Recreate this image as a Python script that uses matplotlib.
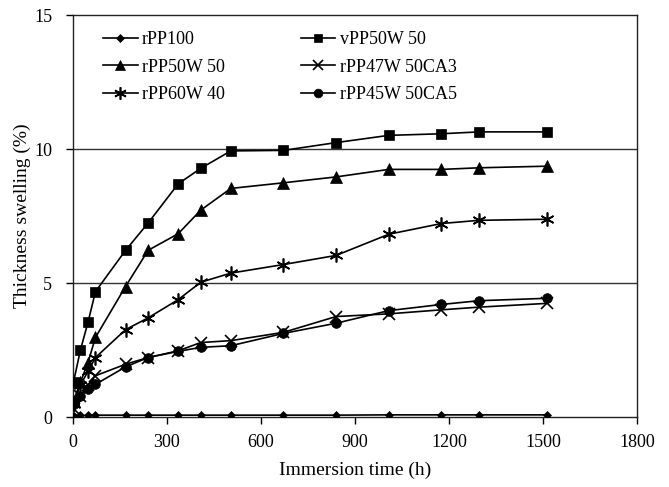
import numpy as np
import matplotlib.pyplot as plt

plt.rcParams['font.family'] = ['Liberation Serif', 'DejaVu Serif']

# immersion times (h)
hours = [2, 24, 48, 72, 168, 240, 336, 408, 504, 672, 840, 1008, 1176, 1296, 1512]

rPP100 = [0.05, 0.06, 0.06, 0.07, 0.07, 0.07, 0.07, 0.07, 0.07, 0.07, 0.07, 0.08, 0.08, 0.08, 0.08]
vPP50W50 = [1.31, 2.5, 3.53, 4.68, 6.22, 7.24, 8.70, 9.28, 9.93, 9.95, 10.24, 10.51, 10.57, 10.64, 10.64]
rPP50W50 = [0.6, 1.3, 2.03, 2.97, 4.87, 6.22, 6.84, 7.72, 8.53, 8.74, 8.96, 9.24, 9.24, 9.30, 9.36]
rPP47W50CA3 = [0.3, 0.8, 1.2, 1.54, 1.97, 2.22, 2.47, 2.78, 2.85, 3.16, 3.75, 3.85, 4.0, 4.1, 4.24]
rPP60W40 = [0.5, 1.2, 1.7, 2.22, 3.26, 3.70, 4.38, 5.03, 5.37, 5.69, 6.03, 6.82, 7.22, 7.34, 7.38]
rPP45W50CA5 = [0.5, 0.8, 1.05, 1.22, 1.87, 2.22, 2.45, 2.6, 2.66, 3.12, 3.5, 3.97, 4.2, 4.34, 4.43]

series = [
    ("rPP100", rPP100, "D", 4),
    ("vPP50W 50", vPP50W50, "s", 7),
    ("rPP50W 50", rPP50W50, "^", 8),
    ("rPP47W 50CA3", rPP47W50CA3, "x", 8),
    ("rPP60W 40", rPP60W40, (6, 2, 0), 10),
    ("rPP45W 50CA5", rPP45W50CA5, "o", 7),
]

fig = plt.figure(figsize=(6.69, 4.87), dpi=100)
ax = fig.add_axes([0.109, 0.1437, 0.843, 0.8254])

for yv in [5, 10]:
    ax.axhline(yv, color="#333333", lw=1.0, zorder=1)

handles = []
for label, vals, mk, ms in series:
    h, = ax.plot(hours, vals, color="black", lw=1.2, marker=mk, markersize=ms,
                 markeredgewidth=1.2 if mk in ("x", (6, 2, 0)) else 0.5,
                 label=label, zorder=3)
    handles.append(h)

ax.set_xlim(0, 1800)
ax.set_ylim(0, 15)
ax.set_xticks(np.arange(0, 1801, 300))
ax.set_yticks([0, 5, 10, 15])
ax.tick_params(direction="out", length=5, labelsize=13, width=1)
ax.tick_params(axis="y", pad=10)
ax.tick_params(axis="x", pad=7)
for sp in ax.spines.values():
    sp.set_linewidth(1.0)
    sp.set_color("#222222")

ax.set_xlabel("Immersion time (h)", fontsize=14, labelpad=8)
ax.set_ylabel("Thickness swelling (%)", fontsize=14, labelpad=2)

# legend is filled row by row in the reference
order = [0, 2, 4, 1, 3, 5]
ax.legend([handles[i] for i in order], [series[i][0] for i in order],
          loc="upper left", ncol=2, frameon=False, fontsize=13,
          handlelength=1.9, handletextpad=0.25, columnspacing=4.2,
          labelspacing=0.58, bbox_to_anchor=(0.025, 1.0), markerscale=0.9)

fig.savefig("out.png", dpi=100)
